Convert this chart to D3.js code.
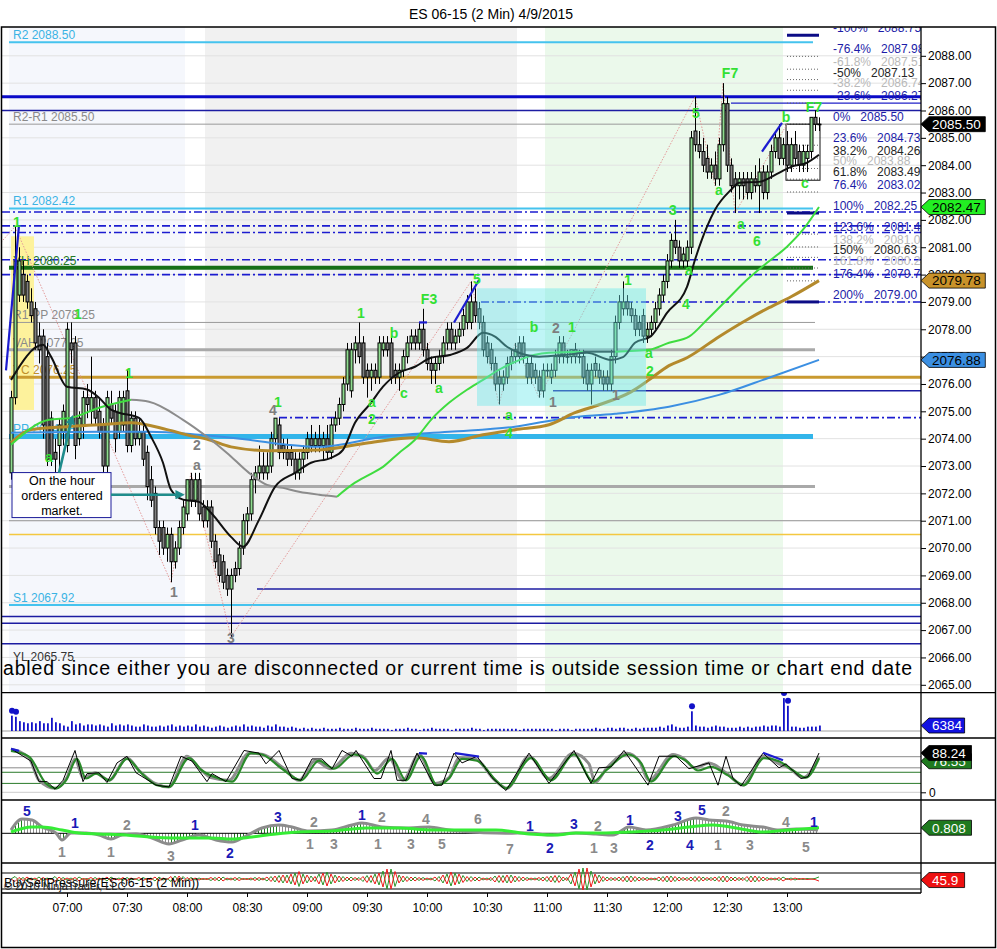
<!DOCTYPE html>
<html>
<head>
<meta charset="utf-8">
<script src="https://cdn.jsdelivr.net/npm/d3@7"></script>
<style>
  body { margin: 0; background: #fff; }
  text { font-family: "Liberation Sans", Arial, sans-serif; }
</style>
</head>
<body>
<svg id="chart" width="997" height="949"></svg>
<script>
// ---- data ----
const title = "ES 06-15 (2 Min)  4/9/2015";
const firstBar = "06:32";          // 2 minute bars
const timeTicks = ["07:00","07:30","08:00","08:30","09:00","09:30","10:00","10:30","11:00","11:30","12:00","12:30","13:00"];

// [open, high, low, close]
const ohlc = [
 [2072.75,2075.75,2072.5,2075.5],[2075.5,2081.75,2075.25,2080.5],[2079.25,2081,2079,2080.5],[2080,2080.5,2079,2079.25],
 [2079.75,2080,2078.75,2079],[2079,2079.5,2078.25,2078.5],[2078.75,2079,2077.25,2077.5],[2077.75,2078.25,2076.75,2077.25],
 [2077.75,2078,2074,2074.5],[2077,2077.5,2073,2073.25],[2074.75,2075,2073,2073.25],[2073.5,2074,2072.75,2073.25],
 [2073.75,2074.75,2072.5,2074.5],[2074.25,2075.25,2073.75,2075],[2073.75,2078.25,2073.5,2078],[2077.5,2078.25,2076.75,2077.25],
 [2077.5,2077.75,2073.25,2073.75],[2074,2075,2073.75,2074.75],[2074.5,2075.75,2074,2075.5],[2075.5,2076,2074.75,2075.25],
 [2075,2077,2074.5,2075.5],[2075.5,2075.75,2074.5,2074.75],[2075,2075.5,2074,2074.25],[2074.5,2074.75,2072.75,2073],
 [2073,2075.75,2072.75,2075.5],[2075.25,2075.75,2074.5,2074.75],[2075,2075.25,2073.5,2074],[2074.25,2075.75,2074,2075.5],
 [2074.5,2075.75,2074.25,2075.5],[2075.75,2076.5,2073.5,2073.75],[2073.75,2075,2073.5,2074.75],[2074.75,2075,2073.75,2074],
 [2074,2074.75,2073.75,2074.25],[2074.25,2074.5,2073,2073.25],[2073.5,2073.75,2071.75,2072.25],[2072.5,2073,2071.5,2071.75],
 [2072,2072.25,2070.5,2070.75],[2070.75,2071,2069.75,2070.25],[2070.75,2071,2069.75,2070],[2070,2070.75,2069.5,2070.5],
 [2070.5,2070.75,2068.75,2069.5],[2069.5,2070.25,2069.25,2070],[2070,2071,2069.75,2070.75],[2070.75,2071.75,2070.5,2071.5],
 [2071.25,2072.5,2071,2072.5],[2072.5,2072.75,2071.5,2071.75],[2071.75,2072.75,2071.5,2072.5],[2072.5,2072.75,2071,2071.25],
 [2071.5,2071.75,2070.75,2071],[2071,2071.75,2070.75,2071.5],[2071.5,2071.75,2070,2070.25],[2070.25,2070.5,2069.25,2069.5],
 [2069.75,2070,2068.75,2069],[2069.5,2069.75,2068.5,2068.75],[2069,2069.25,2068.25,2068.5],[2068.5,2069.25,2066.75,2069],
 [2069.25,2069.5,2068.75,2069],[2069.25,2070.25,2069,2070],[2070,2071.25,2069.75,2071],[2071,2071.5,2070.5,2071.25],
 [2071.25,2072.75,2071,2072.5],[2072.5,2073,2072,2072.75],[2072.75,2073.75,2072.5,2073],[2073,2073.5,2072.5,2072.75],
 [2072.75,2073.5,2072.5,2073],[2073,2074.25,2072.75,2074],[2074,2074.75,2073.75,2074.75],[2074.5,2074.75,2073.25,2073.5],
 [2073.75,2074,2073.25,2073.5],[2073.5,2074,2073,2073.25],[2073.5,2073.75,2073,2073.25],[2073.25,2073.5,2072.5,2072.75],
 [2072.75,2073.5,2072.5,2073.25],[2073.25,2073.75,2072.75,2073.5],[2073.5,2074.25,2073.25,2074],[2074,2074.5,2073.5,2073.75],
 [2073.75,2074.25,2073.5,2074],[2074,2074.5,2073.5,2073.75],[2073.75,2074.25,2073.25,2074],[2074,2074.5,2073.25,2073.5],
 [2073.5,2074.75,2073.25,2074.5],[2074.5,2075,2074.25,2074.75],[2074.75,2075.5,2074.5,2075.25],[2075.25,2076.25,2075,2076],
 [2076,2077.5,2075.75,2077.25],[2075.75,2077.5,2075.5,2077.25],[2077.25,2077.75,2076.75,2077.5],[2077.5,2078.25,2076.75,2077],
 [2077.5,2077.75,2076,2076.25],[2076.5,2076.75,2075.5,2076.25],[2076.25,2076.75,2075.75,2076.5],[2076.5,2076.75,2076,2076.25],
 [2076.25,2077.75,2076,2077.5],[2077.25,2077.75,2077,2077.5],[2077.5,2077.75,2077,2077.25],[2077.5,2077.75,2076,2076.25],
 [2076.5,2076.75,2076,2076.25],[2076.25,2076.75,2075.75,2076.5],[2076.5,2077.25,2076.25,2077],[2077,2077.75,2076.75,2077.5],
 [2077.5,2078,2077.25,2077.75],[2077.75,2078,2077.25,2077.5],[2077.5,2078.25,2077.25,2078],[2078,2078.75,2077,2077.25],
 [2077.25,2077.5,2076.5,2076.75],[2076.75,2077,2076,2076.5],[2076.5,2077,2076,2076.75],[2076.75,2077.25,2076.5,2077],
 [2077,2077.75,2076.75,2077.5],[2077.5,2078.25,2077.25,2078],[2078,2078.25,2077.25,2077.5],[2077.5,2078,2077.25,2077.75],
 [2077.75,2078.25,2077.5,2078],[2078,2078.75,2077.75,2078.5],[2078.25,2079.25,2078,2079],[2078.25,2079.75,2078,2079],
 [2079,2079.5,2078.25,2078.5],[2078.75,2079,2078,2078.25],[2078.25,2078.5,2077,2077.25],[2077.5,2077.75,2076.75,2077],
 [2077.25,2077.5,2076.5,2076.75],[2076.75,2077,2075.75,2076],[2076.25,2076.5,2075.25,2076],[2076,2076.5,2075.75,2076.25],
 [2076.25,2077,2076,2076.75],[2076.75,2077.25,2076.5,2077],[2077,2077.5,2076.75,2077.25],[2077.5,2077.75,2076.75,2077],
 [2077.5,2077.75,2076.75,2077],[2076.75,2077,2076,2076.25],[2076.75,2077,2076,2076.25],[2076.5,2076.75,2076,2076.25],
 [2076.25,2076.5,2075.5,2075.75],[2075.75,2076.75,2075.5,2076.5],[2076.5,2076.75,2076.25,2076.5],[2076.25,2076.75,2076,2076.5],
 [2076.5,2077.25,2076.25,2077],[2077,2077.75,2076.75,2077.5],[2077.5,2077.75,2076.75,2077],[2077,2077.25,2076.75,2077],
 [2077,2077.25,2076.75,2077.25],[2077.25,2077.5,2076.75,2077],[2077,2077.25,2076.75,2077],[2077,2077.25,2076,2076.25],
 [2076.5,2076.75,2075.75,2076],[2076,2076.75,2075.25,2076.5],[2076.75,2077,2076.25,2076.5],[2076.5,2076.75,2076,2076.25],
 [2076.25,2076.5,2075.75,2076],[2076.25,2076.5,2075.75,2076],[2076,2077.25,2075.75,2077],[2077,2078.5,2076.75,2078.25],
 [2078.25,2079.25,2078,2079],[2078.75,2079.75,2078.5,2079],[2079,2079.25,2078.5,2078.75],[2078.75,2079,2078.25,2078.5],
 [2078.5,2078.75,2077.75,2078],[2078.25,2078.5,2077.75,2078],[2078.5,2078.75,2077.5,2077.75],[2077.75,2078.25,2077.5,2078],
 [2078,2078.5,2077.75,2078.25],[2078.25,2079,2078,2078.75],[2078.75,2079.5,2078.5,2079.25],[2079.25,2080,2079,2079.75],
 [2079.75,2080.75,2079.5,2080.5],[2080.5,2081.5,2080.25,2081.25],[2081.25,2082,2080.75,2081],[2081,2081.25,2080.25,2080.5],
 [2080.5,2081,2080.25,2080.75],[2080.5,2081.25,2080.25,2081],[2081,2085.25,2080.75,2085],[2085.25,2086.5,2084.5,2084.75],
 [2084.75,2085.25,2084.25,2084.5],[2084.5,2085,2083.75,2084],[2084.25,2084.75,2083.5,2083.75],[2083.75,2084.25,2083.5,2084],
 [2084,2084.5,2083.25,2083.5],[2083.5,2085,2083.25,2084.75],[2084.75,2087,2084.5,2086.25],[2086.25,2086.5,2083.75,2084],
 [2084,2084.25,2083,2083.25],[2083.5,2083.75,2082.25,2083.25],[2083.25,2083.75,2082.75,2083.5],[2083.5,2083.75,2082.75,2083.25],
 [2083.5,2083.75,2082.75,2083],[2083,2083.75,2082.75,2083.5],[2083.5,2084,2083,2083.25],[2083.25,2084.25,2082.25,2083.75],
 [2083.75,2084,2082.75,2083],[2083,2084,2082.75,2083.75],[2083.75,2084.75,2083.5,2084.5],[2084.5,2085.25,2084.25,2085],
 [2085,2085.5,2084,2084.25],[2084.25,2085,2084,2084.75],[2084.75,2085.25,2083.75,2084],[2084,2085,2083.75,2084.75],
 [2084.75,2085.25,2084,2084.25],[2084.5,2084.75,2083.75,2084],[2084,2084.75,2083.75,2084.5],[2084.25,2084.75,2083.75,2084.5],
 [2084.5,2085.75,2084.25,2085.75],[2085.75,2086,2085.25,2085.5],[2085.5,2085.75,2085.25,2085.5]
];

const volume = [
 17900,16600,11500,10200,9000,10200,9000,11500,9000,9000,
 15400,10200,9000,6400,5100,11500,7700,9000,6400,7700,
 7700,6400,7700,6400,5100,9000,6400,7700,6400,7700,
 6400,5100,5100,7700,6400,5100,5100,6400,5100,6400,
 7700,5100,6400,5100,6400,5100,7700,5100,6400,5100,
 3800,5100,6400,5100,3800,5100,6400,5100,7700,5100,
 6400,5100,5100,3800,6400,5100,7700,5100,5100,3800,
 5100,3800,2600,3800,2600,3800,2600,2600,3800,2600,
 2600,2600,3800,2600,2600,2600,3800,2600,2600,2600,
 3800,2600,2600,2600,2600,1300,2600,2600,2600,3800,
 2600,2600,1300,2600,2600,3800,2600,2600,2600,2600,
 1300,2600,2600,2600,2600,3800,2600,2600,1300,2600,
 2600,2600,2600,2600,2600,2600,2600,1300,2600,2600,
 2600,2600,2600,2600,2600,2600,1300,2600,2600,2600,
 1300,2600,2600,2600,2600,2600,3800,2600,2600,3800,
 3800,2600,3800,3800,2600,2600,3800,2600,3800,3800,
 3800,3800,5100,3800,6400,7700,5100,3800,3800,5100,
 23000,6400,5100,5100,3800,5100,6400,5100,5100,3800,
 3800,3800,5100,3800,5100,3800,5100,5100,6400,5100,
 6400,6400,5100,38400,29400,5100,5100,3800,3800,5100,
 5100,5100,6384
];
const volumeSpike = 16000;

// moving averages, read at [bar index, price]
const maFast = [[0,2076.15],[8,2077.43],[10,2077.0],[14,2075.9],[19,2075.8],[22,2075.5],[25,2075.06],[27,2074.95],[32,2074.76],[35,2074.07],[38,2073.12],[40,2072.13],[43,2071.77],[47,2071.69],[50,2071.29],[55,2070.41],[58,2070.05],[62,2071.03],[66,2072.24],[71,2072.75],[75,2073.12],[80,2073.3],[83,2073.59],[86,2074.58],[90,2075.31],[93,2075.9],[97,2076.41],[101,2076.63],[105,2076.96],[110,2077.07],[114,2077.32],[118,2077.87],[121,2077.73],[124,2077.36],[127,2077.14],[132,2077.0],[139,2077.07],[144,2077.14],[150,2076.88],[153,2076.98],[156,2077.51],[160,2077.75],[164,2078.6],[169,2079.55],[171,2080.54],[174,2081.75],[176,2082.37],[180,2083.1],[182,2083.36],[187,2083.39],[192,2083.72],[195,2083.94],[199,2084.09],[202,2084.38]];
const maSlope = [[0,2073.78],[9.5,2074.69],[15,2074.76],[22,2075.13],[30,2075.42],[34.5,2075.35],[43,2074.69],[49,2074.07],[54,2073.48],[59.5,2072.75],[64,2072.31],[68,2072.2],[72,2072.06],[77,2071.95],[81.5,2071.88],[86,2072.39],[89.5,2072.68],[93,2072.97],[97,2073.48],[101,2073.96],[105,2074.69],[109.5,2075.31],[114,2075.79],[118,2076.15],[122,2076.52],[126,2076.81],[131,2077.07],[134.5,2077.14],[143,2077.18],[151,2077.18],[159.5,2077.25],[164.5,2077.51],[169.5,2077.73],[174,2078.35],[179,2079.08],[184,2079.81],[189,2080.43],[194,2081.02],[198,2081.64],[202,2082.47]];
const maMid = [[0,2073.85],[5,2074.33],[14,2074.44],[22,2074.51],[30,2074.58],[39,2074.33],[44,2074.14],[49.5,2073.96],[55,2073.7],[64.5,2073.56],[77,2073.59],[89.5,2073.85],[101,2074.03],[109.5,2073.89],[118,2074.14],[126,2074.33],[134.5,2074.51],[141,2074.95],[147,2075.24],[155,2075.71],[159.5,2076.15],[164.5,2076.67],[169,2076.96],[177,2077.73],[184,2078.35],[189.5,2078.79],[195,2079.19],[202,2079.78]];
const maSlow = [[0,2074.22],[22,2074.25],[34.5,2074.25],[47,2074.14],[59.5,2073.96],[69,2073.78],[77,2073.7],[93,2074.07],[109.5,2074.25],[126,2074.44],[139,2074.76],[151,2074.91],[164.5,2075.17],[177,2075.6],[189.5,2076.23],[202,2076.88]];

// pivot / level lines: [label, price, kind, from time, to time]
const levels = [
 ["R2 2088.50",2088.50,"pivot","06:31","13:13"],
 ["",2086.50,"blueThick",null,null],
 ["",2086.27,"blueThin","12:32",null],
 ["",2086.00,"navy",null,null],
 ["R2-R1 2085.50",2085.50,"grayThin","06:31",null],
 ["R1 2082.42",2082.42,"pivot","06:31","13:13"],
 ["",2082.29,"dashdot",null,null],
 ["",2081.78,"dashdot",null,null],
 ["",2081.54,"dashdot",null,null],
 ["",2080.54,"dashdot",null,null],
 ["YH 2080.25",2080.25,"darkGreen","06:31","13:13"],
 ["",2080.00,"dashdot",null,null],
 ["",2079.00,"dashdot","10:27",null],
 ["R1-PP 2078.25",2078.25,"grayThin","06:31","13:14"],
 ["VAH 2077.25",2077.25,"grayThick","06:31","13:14"],
 ["YC 2076.25",2076.25,"gold","06:31",null],
 ["",2075.75,"navy","11:03",null],
 ["",2074.77,"dashdot","08:46",null],
 ["PP 2074.08",2074.08,"pp","06:31","13:13"],
 ["VAL 2072.25",2072.25,"grayThick","06:31","13:14"],
 ["PP-S1 2071.00",2071.00,"grayThin","06:31",null],
 ["",2070.50,"yellow","06:31",null],
 ["",2068.50,"navy","08:35",null],
 ["S1 2067.92",2067.92,"pivot","06:31",null],
 ["",2067.50,"navy",null,null],
 ["",2067.25,"navy",null,null],
 ["",2066.50,"navy",null,null],
 ["YL 2065.75",2065.75,"none","06:31",null]
];

// fibonacci extension of the last swing
const fibPct   = [-100,-76.4,-61.8,-50,-38.2,-23.6,0,23.6,38.2,50,61.8,76.4,100,123.6,138.2,150,161.8,176.4,200];
const fibPrice = [2088.75,2087.98,2087.51,2087.13,2086.74,2086.27,2085.50,2084.73,2084.26,2083.88,2083.49,2083.02,2082.25,2081.48,2081.01,2080.63,2080.24,2079.77,2079.00];
const fibTone  = ["b","b","l","d","l","b","b","b","d","l","d","b","b","b","l","d","l","b","b"];
const fibStrong = [-100,100,200];

// session shading [from, to, kind]
const shades = [["06:31","07:59","pre"],["08:09","10:45","mid"],["10:59","12:58","late"]];
const yellowZone = {from: 0, to: 5.75, hi: 2081.4, lo: 2075.05};
const cyanZone = {from: 116.5, to: 158.75, hi: 2079.5, lo: 2075.2};
const rangeBox = {from: 193.75, to: 202.25, hi: 2085.5, lo: 2083.45};

const zigzag = [[-3,2081.1],[1,2081.75],[40,2068.75],[45,2072.75],[55,2066.75],[115,2079.75],[122,2075.25],[126,2077.5],[132,2075.5],[171,2086.5],[176,2083.25],[178,2087.0],[181,2082.25],[194,2085.5]];
const trendSegs = [[[-1.25,2076.5],[2,2081.8]],[[110.75,2078.25],[117,2079.8]],[[102,2078.25],[104,2078.25]],[[187.75,2084.5],[192.75,2085.55]]];

// swing labels [bar, price, text, tone]
const swingLabels = [
 [1.5,2081.93,"1","g"],[9.5,2073.33,"a","g"],[9.5,2072.57,"2","g"],[16.75,2078.56,"1","g"],[29.5,2076.4,"1","g"],
 [66.75,2075.34,"1","g"],[87.5,2078.6,"1","g"],[90.25,2075.34,"a","g"],[90.25,2074.72,"2","g"],[95.75,2077.87,"b","g"],
 [98.25,2075.67,"c","g"],[107,2075.86,"a","g"],[104.5,2079.11,"F3","g"],[116.5,2079.84,"5","g"],[124.5,2074.86,"a","g"],
 [124.5,2074.21,"4","g"],[130.75,2078.09,"b","g"],[140.25,2078.09,"1","g"],[154.25,2079.8,"1","g"],[159.5,2077.13,"a","g"],
 [159.75,2076.48,"2","g"],[165.5,2082.36,"3","g"],[169.5,2080.17,"a","g"],[168.75,2078.93,"4","g"],[171.25,2085.91,"5","g"],
 [179.75,2087.37,"F7","g"],[177,2083.09,"a","g"],[182.5,2081.85,"a","g"],[186.5,2081.23,"6","g"],[193.75,2085.76,"b","g"],
 [200.75,2086.13,"F7","g"],[198.5,2083.35,"c","g"],
 [40.75,2068.39,"1","n"],[46.5,2073.77,"2","n"],[46.5,2073.04,"a","n"],[55,2066.73,"3","n"],[65.5,2075.05,"4","n"],
 [135.5,2075.34,"1","n"],[136.25,2078.05,"2","n"],[151.25,2075.6,"1","n"]
];

const note = {bar: 0.25, price: 2072.76, lines: ["On the hour","orders entered","market."]};
const noteArrows = [[[12,2072.75],[15.25,2074.77]],[[25,2071.95],[42.75,2071.95]]];
const message = "abled since either you are disconnected or current time is outside session time or chart end date";

// stochastics [bar, value]
const stochFast = [[0,98],[5,70],[7,24],[9,24],[11,7],[13,27],[16,94],[18,24],[19,42],[22,44],[24,22],[26.5,66],[29,81],[31.25,44],[36.25,16],[39.5,12],[42.5,81],[45.25,70],[49,24],[50.25,42],[53.75,24],[58.25,94],[62,88],[63.75,64],[67,94],[70.25,31],[72.5,27],[75.25,75],[77.75,75],[80.25,53],[82.75,94],[85.25,81],[86.25,94],[90.75,31],[92.5,31],[95,94],[96.5,27],[98.75,27],[101.5,88],[105.75,16],[107.75,16],[110.75,88],[112.75,66],[116.5,81],[120.25,33],[123.75,4],[129.5,88],[134.5,20],[140.75,94],[145,20],[147,55],[150,57],[153.25,94],[159.25,16],[162,81],[166.25,81],[169.5,53],[174.5,66],[176.75,16],[178.75,81],[180.5,31],[182.5,14],[188,88],[192,55],[193.75,64],[197.5,31],[199.25,35],[202,88.24]];
const stochSlowK = [[0,97],[4.5,77],[7,27],[11,9],[14,33],[16,75],[18,33],[21,44],[24.5,27],[29,77],[32,49],[36,20],[39.5,12],[44,81],[47,55],[50,33],[54.5,27],[59.5,88],[63,85],[68,55],[72,27],[76,71],[80,53],[85,88],[88,81],[91,49],[94.5,77],[98,27],[102,85],[106,20],[109.5,33],[112,77],[116,75],[121,27],[124,9],[129.5,81],[134.5,31],[140.5,88],[144.5,64],[146,22],[149,55],[154,88],[157,71],[159.5,27],[165.5,85],[168,77],[171,55],[174.5,66],[179,42],[183,16],[188,81],[192,64],[194.5,55],[198,33],[202,80]];
const stochD = [[0,93],[4.5,80],[8.75,20],[11.25,9],[13.75,27],[16.5,75],[18.75,31],[21.25,42],[24.5,27],[29,75],[32.5,44],[36.5,16],[39.5,12],[44.5,77],[47.75,49],[52,31],[55.25,24],[60,88],[62.75,85],[67.75,53],[72.5,27],[77,71],[80.75,53],[85.75,85],[88.25,77],[91.5,42],[95.25,75],[98.75,27],[102.5,81],[106.5,16],[109.5,31],[112.75,75],[116.5,71],[121.5,24],[123.75,9],[130,77],[135,27],[140.75,85],[145.5,24],[148.75,49],[154.25,85],[157.5,66],[160,24],[165.75,81],[168.75,71],[171.75,49],[175,57],[179.25,38],[183.25,16],[188.25,77],[192,70],[195.5,49],[198.75,33],[202,76.55]];
const stochLevels = [[80,"hi"],[55,"hi"],[45,"lo"],[20,"lo"],[0,"zero"]];
const stochDiverg = [[[0,98],[2,93]],[[102,88],[104,87]],[[111,88],[117,80]],[[188,89],[193,72]]];

// macd style panel [bar, value]
const macd = [[0,0.48],[2.75,2.07],[5.25,1.93],[7.75,0.91],[11.25,0.04],[12.75,-0.97],[15,0.04],[18.75,0.04],[22,-0.25],[25,-0.83],[27.75,-0.25],[31.25,-0.1],[35.25,-0.68],[39.5,-1.55],[42.75,-0.97],[47,-0.25],[51.25,-0.97],[55.25,-1.26],[58.75,-0.39],[62.75,0.77],[67,1.2],[70.25,0.91],[74.5,0.33],[80.25,0.48],[85.25,1.2],[87.75,1.49],[92.75,0.91],[98.75,0.77],[104.5,0.91],[109.5,0.48],[115.25,0.19],[121.25,0.04],[123.75,0.02],[129.5,0.04],[134.5,-0.25],[141.25,0.04],[146.25,-0.1],[150.5,-0.25],[154.5,0.91],[158.75,0.48],[165.5,1.2],[171.25,2.22],[174.5,1.93],[178.75,1.78],[183,1.2],[188,0.91],[192,0.48],[196.25,0.62],[201.75,0.48]];
const macdAvg = [[0,0.19],[5.25,0.91],[7.75,0.91],[12.75,0.48],[17,0.04],[22,-0.1],[28.75,-0.25],[34.5,-0.53],[40.25,-0.68],[50.25,-0.68],[55.25,-0.83],[60.25,-0.53],[66.25,-0.1],[72,0.19],[80.25,0.33],[88.75,0.77],[97,0.77],[105.25,0.48],[121.25,0.48],[129.5,-0.1],[136.25,-0.25],[141.25,0.04],[148.75,0.04],[154.5,0.19],[163,0.48],[169.5,0.91],[175.5,1.2],[181.25,0.77],[188,0.19],[194.5,0.48],[202,0.808]];
const macdLabels = [
 [4,3.2,"5","b"],[16,1.49,"1","b"],[12.75,-2.71,"1","n"],[29,1.2,"2","n"],[25,-2.71,"1","n"],[40,-3.3,"3","n"],
 [46,1.2,"1","b"],[54.75,-2.86,"2","b"],[66.75,2.36,"3","b"],[75.75,1.64,"2","n"],[74.75,-1.55,"1","n"],[80.75,-1.55,"3","n"],
 [87.75,2.65,"1","b"],[92.75,2.36,"2","n"],[91.75,-1.55,"1","n"],[103.75,2.07,"4","n"],[100,-1.55,"3","n"],[107.75,-1.55,"5","n"],
 [116.75,2.07,"6","n"],[124.75,-2.28,"7","n"],[129.75,1.06,"1","b"],[134.75,-2.13,"2","b"],[140.75,1.35,"3","b"],[146.75,1.06,"2","n"],
 [145.75,-2.13,"1","n"],[150.75,-2.13,"3","n"],[154.75,1.93,"1","b"],[159.75,-1.7,"2","b"],[166.75,2.51,"3","b"],[172.75,3.38,"5","b"],
 [178.75,3.23,"2","n"],[169.75,-1.7,"4","b"],[176.75,-1.7,"1","n"],[184.75,-1.7,"3","n"],[193.75,1.64,"4","n"],[200.75,1.64,"1","b"],[198.75,-1.99,"5","n"]
];

// buy pressure per bar (sell pressure is its complement)
const buyPressure = [
 50,55,47,53,46,52,48,54,47,52, 49,55,46,53,48,52,47,54,49,51, 47,53,48,52,46,54,49,52,47,53,
 48,51,47,53,49,52,46,54,48,51, 45,56,44,55,47,53,48,52,49,51, 47,53,46,54,48,52,47,53,49,51,
 48,53,47,52,46,55,44,57,42,58, 40,62,35,60,42,56,45,60,38,64, 40,58,44,55,46,54,47,53,45,57,
 43,60,38,66,30,70,35,58,44,55, 46,54,47,53,48,52,46,55,42,60, 36,62,40,57,45,55,46,54,48,52,
 47,56,43,57,42,58,44,55,46,53, 48,52,47,54,45,56,43,57,46,53, 40,64,30,72,28,66,40,58,45,54,
 47,53,46,55,44,56,45,54,47,53, 48,52,46,55,44,56,45,54,47,53, 46,55,45,54,47,53,46,55,44,56,
 46,54,47,53,45,56,44,55,46,53, 48,52,47,54,49,52,48,51,49,51, 50,51,54.1
];

const lastValues = {close: 2085.50, maSlope: 2082.47, maMid: 2079.78, maSlow: 2076.88, volume: 6384, stochK: 88.24, stochD: 76.55, macd: 0.808, sell: 45.9};

// ---- layout ----
const W = 997, H = 949;
const plotL = 2, plotR = 921;
const P = {main: [27, 692.7], vol: [692.7, 738], st: [738, 800], md: [800, 863], bs: [863, 893]};

const toMin = s => { const [h, m] = s.split(":").map(Number); return h * 60 + m; };
const fmtMin = m => String(Math.floor(m / 60)).padStart(2, "0") + ":" + String(m % 60).padStart(2, "0");
const t0 = toMin(firstBar);

const x = d3.scaleLinear().domain([toMin("07:00"), toMin("13:00")]).range([67, 787]);
const bx = i => x(t0 + 2 * i);
const yP = d3.scaleLinear().domain([2065, 2088]).range([684.8, 55.8]);
const yV = d3.scaleLinear().domain([0, 42000]).range([731, 695]);
const yS = d3.scaleLinear().domain([0, 100]).range([792.3, 747.8]);
const yM = d3.scaleLinear().domain([-3, 3]).range([854, 812.6]);
const yB = d3.scaleLinear().domain([0, 100]).range([904, 854]);

const svg = d3.select("#chart");
const defs = svg.append("defs");
function clip(id, y0, y1) {
  defs.append("clipPath").attr("id", id).append("rect")
    .attr("x", plotL).attr("y", y0).attr("width", plotR - plotL).attr("height", y1 - y0);
}
clip("cMain", ...P.main); clip("cVol", ...P.vol); clip("cSt", ...P.st); clip("cMd", ...P.md); clip("cBs", ...P.bs);

defs.append("marker").attr("id", "arrow").attr("viewBox", "0 0 10 10")
  .attr("refX", 7).attr("refY", 5).attr("markerWidth", 3.6).attr("markerHeight", 3.6).attr("orient", "auto")
  .append("path").attr("d", "M0,0 L10,5 L0,10 z").attr("fill", "#1f8c8c");

[["hGreen", "#1e7e1e"], ["hGray", "#8c8c8c"]].forEach(([id, col]) => {
  const p = defs.append("pattern").attr("id", id).attr("patternUnits", "userSpaceOnUse").attr("width", 3).attr("height", 10);
  p.append("rect").attr("x", 0).attr("y", 0).attr("width", 1).attr("height", 10).attr("fill", col);
});

svg.append("rect").attr("width", W).attr("height", H).attr("fill", "#fff");

svg.append("text").attr("x", 491).attr("y", 19).attr("text-anchor", "middle")
  .attr("font-size", 14).attr("fill", "#000").text(title);

// ---- main price panel ----
const main = svg.append("g").attr("clip-path", "url(#cMain)");
const shadeColor = {pre: "#f5f7fc", mid: "#f1f1f1", late: "#ebf9eb"};
main.selectAll(".shade").data(shades).enter().append("rect")
  .attr("x", d => x(toMin(d[0]))).attr("width", d => x(toMin(d[1])) - x(toMin(d[0])))
  .attr("y", P.main[0]).attr("height", P.main[1] - P.main[0])
  .attr("fill", d => shadeColor[d[2]]);

main.selectAll(".grid").data(d3.range(2065, 2089)).enter().append("line")
  .attr("x1", plotL).attr("x2", plotR).attr("y1", d => yP(d)).attr("y2", d => yP(d))
  .attr("stroke", "#e2e2e2").attr("stroke-width", 1);

main.append("rect")
  .attr("x", bx(yellowZone.from)).attr("width", bx(yellowZone.to) - bx(yellowZone.from))
  .attr("y", yP(yellowZone.hi)).attr("height", yP(yellowZone.lo) - yP(yellowZone.hi))
  .attr("fill", "#fdf29c");

const levelStyle = {
  pivot: {c: "#45c3ee", w: 2}, pp: {c: "#32b5ea", w: 5}, grayThin: {c: "#9a9a9a", w: 1},
  grayThick: {c: "#a9a9a9", w: 3}, gold: {c: "#c99a30", w: 3}, yellow: {c: "#f4c840", w: 1.5},
  darkGreen: {c: "#167016", w: 4}, navy: {c: "#1c1ca2", w: 1.5}, blueThick: {c: "#0a0ac8", w: 3},
  blueThin: {c: "#2020c8", w: 1.2}, dashdot: {c: "#1c1cd0", w: 1.6, dash: "8,3,2,3"}, none: null
};
const labelColor = {pivot: "#3ab3e4", pp: "#3ab3e4", grayThin: "#8a8a8a", grayThick: "#8a8a8a",
  gold: "#c0902a", darkGreen: "#257a25", none: "#333", yellow: "#c0a030"};

levels.forEach(([label, price, kind, from, to]) => {
  const st = levelStyle[kind];
  const x1 = from ? x(toMin(from)) : plotL;
  const x2 = to ? x(toMin(to)) : plotR;
  if (st) {
    main.append("line").attr("x1", x1).attr("x2", x2).attr("y1", yP(price)).attr("y2", yP(price))
      .attr("stroke", st.c).attr("stroke-width", st.w).attr("stroke-dasharray", st.dash || null);
  }
});
levels.filter(d => d[0]).forEach(([label, price, kind]) => {
  main.append("text").attr("x", 13).attr("y", yP(price) - 3).attr("font-size", 12)
    .attr("fill", labelColor[kind]).text(label);
});

// fib short lines
fibPct.forEach((p, k) => {
  const strong = fibStrong.includes(p);
  main.append("line").attr("x1", x(toMin("13:00"))).attr("x2", x(toMin("13:16")))
    .attr("y1", yP(fibPrice[k])).attr("y2", yP(fibPrice[k]))
    .attr("stroke", strong ? "#0c0c86" : "#666").attr("stroke-width", strong ? 3 : 1)
    .attr("stroke-dasharray", strong ? null : "1,2");
});
main.append("rect")
  .attr("x", bx(rangeBox.from)).attr("width", bx(rangeBox.to) - bx(rangeBox.from))
  .attr("y", yP(rangeBox.hi)).attr("height", yP(rangeBox.lo) - yP(rangeBox.hi))
  .attr("fill", "none").attr("stroke", "#111").attr("stroke-width", 1);

const lineP = d3.line().x(d => bx(d[0])).y(d => yP(d[1]));
main.append("path").attr("d", lineP(zigzag)).attr("fill", "none")
  .attr("stroke", "#e39a9a").attr("stroke-width", 1).attr("stroke-dasharray", "1.5,1.5");

// candles
const cg = main.append("g");
cg.selectAll(".wick").data(ohlc).enter().append("line")
  .attr("x1", (d, i) => bx(i) + 0.5).attr("x2", (d, i) => bx(i) + 0.5)
  .attr("y1", d => yP(d[1])).attr("y2", d => yP(d[2]))
  .attr("stroke", "#000").attr("stroke-width", 1);
cg.selectAll(".body").data(ohlc).enter().append("rect")
  .attr("x", (d, i) => bx(i) - 1)
  .attr("y", d => yP(Math.max(d[0], d[3])))
  .attr("width", 3)
  .attr("height", d => Math.max(0.6, Math.abs(yP(d[0]) - yP(d[3]))))
  .attr("fill", d => d[3] > d[0] ? "#8fdb8f" : (d[3] < d[0] ? "#808080" : "#000"))
  .attr("stroke", "#000").attr("stroke-width", 1);

// moving averages
const curveP = d3.line().x(d => bx(d[0])).y(d => yP(d[1])).curve(d3.curveMonotoneX);
main.append("path").attr("d", curveP(maSlow)).attr("fill", "none").attr("stroke", "#3b8fe2").attr("stroke-width", 2);
main.append("path").attr("d", curveP(maMid)).attr("fill", "none").attr("stroke", "#b48a2c").attr("stroke-width", 3);

function slopeRuns(pts) {
  const runs = [];
  for (let k = 1; k < pts.length; k++) {
    const s = Math.sign(pts[k][1] - pts[k - 1][1]);
    const last = runs[runs.length - 1];
    if (last && last.s === s) last.pts.push(pts[k]);
    else runs.push({s, pts: [pts[k - 1], pts[k]]});
  }
  return runs;
}
const slopeColor = {"1": "#3fdc3f", "-1": "#8c8c8c", "0": "#222"};
slopeRuns(maSlope).forEach(r => {
  main.append("path").attr("d", curveP(r.pts)).attr("fill", "none")
    .attr("stroke", slopeColor[r.s]).attr("stroke-width", 2);
});
main.append("path").attr("d", curveP(maFast)).attr("fill", "none").attr("stroke", "#111").attr("stroke-width", 2);

main.append("rect")
  .attr("x", bx(cyanZone.from)).attr("width", bx(cyanZone.to) - bx(cyanZone.from))
  .attr("y", yP(cyanZone.hi)).attr("height", yP(cyanZone.lo) - yP(cyanZone.hi))
  .attr("fill", "#66e6ea").attr("opacity", 0.42);

trendSegs.forEach(s => {
  main.append("path").attr("d", lineP(s)).attr("stroke", "#1c1cd0").attr("stroke-width", 2.2).attr("fill", "none");
});

main.selectAll(".sw").data(swingLabels).enter().append("text")
  .attr("x", d => bx(d[0])).attr("y", d => yP(d[1])).attr("dy", "0.36em")
  .attr("text-anchor", "middle").attr("font-size", 14).attr("font-weight", "bold")
  .attr("fill", d => d[3] === "g" ? "#33e033" : "#7e7e7e").text(d => d[2]);

// note box and arrows
const nx = bx(note.bar), ny = yP(note.price);
main.append("rect").attr("x", nx).attr("y", ny).attr("width", 99).attr("height", 45)
  .attr("fill", "#fff").attr("stroke", "#1c1c9a").attr("stroke-width", 1);
note.lines.forEach((t, k) => {
  main.append("text").attr("x", nx + 50).attr("y", ny + 12 + 15 * k).attr("text-anchor", "middle")
    .attr("font-size", 12.5).attr("fill", "#000").text(t);
});
noteArrows.forEach(a => {
  main.append("path").attr("d", lineP(a)).attr("stroke", "#1f8c8c").attr("stroke-width", 2.6)
    .attr("fill", "none").attr("marker-end", "url(#arrow)");
});

// fib labels
const fibColor = {b: "#1c1ca8", l: "#b9b9b9", d: "#262626"};
fibPct.forEach((p, k) => {
  main.append("text").attr("x", x(toMin("13:23"))).attr("y", yP(fibPrice[k]) - 3)
    .attr("font-size", 12).attr("fill", fibColor[fibTone[k]])
    .text(p + "%\u00a0\u00a0\u00a0" + fibPrice[k].toFixed(2));
});

main.append("text").attr("x", 3).attr("y", 675).attr("font-size", 19.5).attr("fill", "#000")
  .attr("textLength", 909).attr("lengthAdjust", "spacing").text(message);

// ---- volume panel ----
const vol = svg.append("g").attr("clip-path", "url(#cVol)");
vol.append("line").attr("x1", plotL).attr("x2", plotR).attr("y1", yV(0)).attr("y2", yV(0)).attr("stroke", "#a0a0a0");
vol.selectAll(".v").data(volume).enter().append("rect")
  .attr("x", (d, i) => bx(i)).attr("width", 1.8)
  .attr("y", d => yV(d)).attr("height", d => yV(0) - yV(d)).attr("fill", "#1212c8");
vol.selectAll(".dot").data(volume.map((v, i) => [i, v]).filter(d => d[1] > volumeSpike)).enter().append("circle")
  .attr("cx", d => bx(d[0]) + 1).attr("cy", d => yV(d[1]) - 5).attr("r", 3).attr("fill", "#1212c8");

// ---- stochastic panel ----
const st = svg.append("g").attr("clip-path", "url(#cSt)");
const stLevelColor = {hi: "#8a8a8a", lo: "#2a7a2a", zero: "#cccccc"};
stochLevels.forEach(([v, k]) => {
  st.append("line").attr("x1", plotL).attr("x2", plotR).attr("y1", yS(v)).attr("y2", yS(v))
    .attr("stroke", stLevelColor[k]).attr("stroke-width", 1);
});
const curveS = d3.line().x(d => bx(d[0])).y(d => yS(d[1])).curve(d3.curveMonotoneX);
st.append("path").attr("d", curveS(stochSlowK)).attr("fill", "none").attr("stroke", "#8e8e8e").attr("stroke-width", 3);
st.append("path").attr("d", curveS(stochD)).attr("fill", "none").attr("stroke", "#2a8a2a").attr("stroke-width", 2.2);
st.append("path").attr("d", d3.line().x(d => bx(d[0])).y(d => yS(d[1]))(stochFast))
  .attr("fill", "none").attr("stroke", "#000").attr("stroke-width", 1);
stochDiverg.forEach(s => {
  st.append("path").attr("d", d3.line().x(d => bx(d[0])).y(d => yS(d[1]))(s))
    .attr("stroke", "#1c1cd0").attr("stroke-width", 2.2).attr("fill", "none");
});

// ---- macd panel ----
const md = svg.append("g").attr("clip-path", "url(#cMd)");
const curveM = d3.line().x(d => bx(d[0])).y(d => yM(d[1])).curve(d3.curveMonotoneX);
const areaM = d3.area().x(d => bx(d[0])).y0(yM(0)).y1(d => yM(d[1])).curve(d3.curveMonotoneX);
slopeRuns(macd).forEach(r => {
  md.append("path").attr("d", areaM(r.pts)).attr("fill", r.s > 0 ? "url(#hGreen)" : "url(#hGray)");
});
md.append("line").attr("x1", plotL).attr("x2", plotR).attr("y1", yM(0)).attr("y2", yM(0)).attr("stroke", "#000");
md.append("path").attr("d", curveM(macd)).attr("fill", "none").attr("stroke", "#8c8c8c").attr("stroke-width", 3);
md.append("path").attr("d", curveM(macdAvg)).attr("fill", "none").attr("stroke", "#35ec35").attr("stroke-width", 3);
md.selectAll(".ml").data(macdLabels).enter().append("text")
  .attr("x", d => bx(d[0])).attr("y", d => yM(d[1])).attr("dy", "0.36em")
  .attr("text-anchor", "middle").attr("font-size", 14).attr("font-weight", "bold")
  .attr("fill", d => d[3] === "b" ? "#1a1ab6" : "#8a8a8a").text(d => d[2]);

// ---- buy / sell pressure panel ----
const bs = svg.append("g").attr("clip-path", "url(#cBs)");
[873, 889].forEach(yy => bs.append("line").attr("x1", plotL).attr("x2", plotR).attr("y1", yy).attr("y2", yy).attr("stroke", "#000"));
const lineB = d3.line().x((d, i) => bx(i)).y(d => yB(d));
bs.append("path").attr("d", lineB(buyPressure)).attr("fill", "none").attr("stroke", "#2a962a").attr("stroke-width", 1);
bs.append("path").attr("d", lineB(buyPressure.map(v => 100 - v))).attr("fill", "none").attr("stroke", "#ee1c1c").attr("stroke-width", 1);
bs.append("text").attr("x", 4).attr("y", 887).attr("font-size", 12.5).attr("fill", "#000").text("BuySellPressure(ES 06-15 (2 Min))");
bs.append("text").attr("x", 4).attr("y", 890).attr("font-size", 11).attr("fill", "#222").text("\u00a9 2010 NinjaTrader, LLC");

// ---- axes and frame ----
const ax = svg.append("g").attr("transform", `translate(${plotR},0)`)
  .call(d3.axisRight(yP).tickValues(d3.range(2065, 2089)).tickFormat(d3.format(".2f")).tickSize(5).tickPadding(2));
const sx = svg.append("g").attr("transform", `translate(${plotR},0)`)
  .call(d3.axisRight(yS).tickValues([0]).tickSize(5).tickPadding(3));
const tx = svg.append("g").attr("transform", `translate(0,${P.bs[1]})`)
  .call(d3.axisBottom(x).tickValues(timeTicks.map(toMin)).tickFormat(fmtMin).tickSize(4).tickPadding(6));
[ax, sx, tx].forEach(g => {
  g.select(".domain").remove();
  g.selectAll("text").attr("font-size", 12).attr("fill", "#000").attr("font-family", "Liberation Sans, Arial, sans-serif");
  g.selectAll("line").attr("stroke", "#000");
});

svg.append("rect").attr("x", 1.5).attr("y", 27).attr("width", 994).attr("height", 920.5)
  .attr("fill", "none").attr("stroke", "#000").attr("stroke-width", 1.5);
[P.vol[0], P.st[0], P.md[0], P.bs[0]].forEach(yy => {
  svg.append("line").attr("x1", 1.5).attr("x2", 995.5).attr("y1", yy).attr("y2", yy).attr("stroke", "#000").attr("stroke-width", 1.3);
});
svg.append("line").attr("x1", 1.5).attr("x2", plotR).attr("y1", P.bs[1]).attr("y2", P.bs[1]).attr("stroke", "#000").attr("stroke-width", 1.3);
svg.append("line").attr("x1", plotR).attr("x2", plotR).attr("y1", 27).attr("y2", P.bs[1]).attr("stroke", "#000").attr("stroke-width", 1.3);

// value tags on the right
function tag(yy, txt, fill, color) {
  const w = txt.length * 6.9 + 8;
  const g = svg.append("g");
  g.append("path").attr("d", `M${plotR},${yy} L${plotR + 8},${yy - 7.5} L${plotR + 8 + w},${yy - 7.5} L${plotR + 8 + w},${yy + 7.5} L${plotR + 8},${yy + 7.5} Z`)
    .attr("fill", fill).attr("stroke", "#000").attr("stroke-width", 0.8);
  g.append("text").attr("x", plotR + 11).attr("y", yy).attr("dy", "0.36em").attr("font-size", 13.5)
    .attr("fill", color).text(txt);
}
tag(yP(lastValues.close), lastValues.close.toFixed(2), "#000", "#fff");
tag(yP(lastValues.maSlope), lastValues.maSlope.toFixed(2), "#22ee22", "#000");
tag(yP(lastValues.maMid), lastValues.maMid.toFixed(2), "#c8922a", "#000");
tag(yP(lastValues.maSlow), lastValues.maSlow.toFixed(2), "#3b8fe2", "#000");
tag(yV(lastValues.volume), String(lastValues.volume), "#1212e0", "#fff");
tag(yS(lastValues.stochD) + 3, lastValues.stochD.toFixed(2), "#1f7a1f", "#fff");
tag(yS(lastValues.stochK), lastValues.stochK.toFixed(2), "#000", "#fff");
tag(yM(lastValues.macd), lastValues.macd.toFixed(3), "#1f7a1f", "#fff");
tag(yB(lastValues.sell) - 1, lastValues.sell.toFixed(1), "#ee1111", "#fff");
</script>
</body>
</html>
